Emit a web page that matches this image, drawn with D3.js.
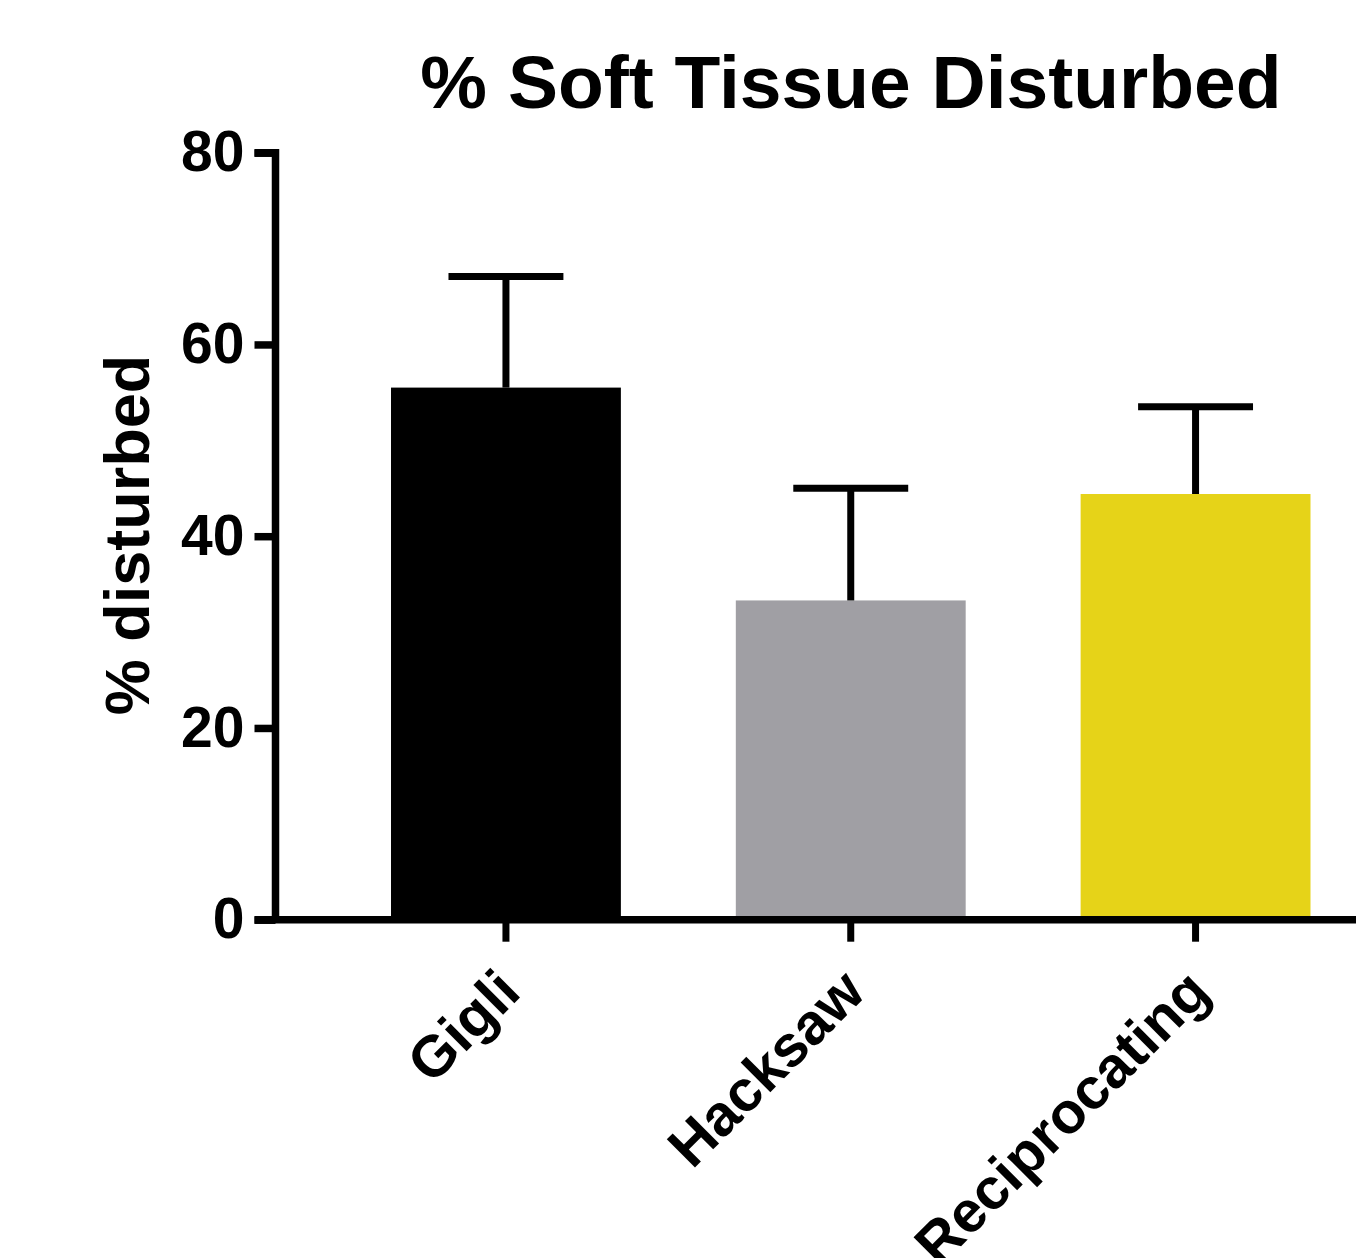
<!DOCTYPE html>
<html>
<head>
<meta charset="utf-8">
<script src="https://cdn.jsdelivr.net/npm/d3@7"></script>
<style>
  html, body { margin: 0; padding: 0; background: #fff; }
  svg { display: block; }
</style>
</head>
<body>
<div id="chart"></div>
<script>
(function () {
  'use strict';

  /* ── DATA ── */
  const CATEGORIES = ['Gigli', 'Hacksaw', 'Reciprocating'];
  const MEANS      = [55.5, 33.3, 44.4];
  const SD         = [11.6, 11.7, 9.1];
  const COLORS     = ['#000000', '#a09fa4', '#e6d318'];
  const Y_TICKS    = [0, 20, 40, 60, 80];

  /* ── LAYOUT ── */
  const W = 1356, H = 1258;
  const FONT   = "'Liberation Sans', Arial, Helvetica, sans-serif";
  const AXIS_W = 7.5;
  const TICK   = 21;
  const X0     = 275.5;            // y axis position
  const Y_BOT  = 919.7, Y_TOP = 152.7;

  const svg = d3.select('#chart').append('svg').attr('width', W).attr('height', H);

  const x = d3.scaleBand().domain(CATEGORIES)
    .range([X0, 1426]).paddingInner(1 / 3).paddingOuter(0.335);
  const y = d3.scaleLinear().domain([0, 80]).range([Y_BOT, Y_TOP]);

  const data = CATEGORIES.map((c, i) => ({ cat: c, mean: MEANS[i], sd: SD[i], color: COLORS[i] }));

  /* bars */
  svg.append('g').selectAll('rect').data(data).join('rect')
    .attr('x', d => x(d.cat)).attr('width', x.bandwidth())
    .attr('y', d => y(d.mean)).attr('height', d => y(0) - y(d.mean))
    .attr('fill', d => d.color);

  /* error bars (upper only) */
  const eb = svg.append('g').attr('stroke', '#000').attr('stroke-width', 7);
  eb.selectAll('line.stem').data(data).join('line').attr('class', 'stem')
    .attr('x1', d => x(d.cat) + x.bandwidth() / 2).attr('x2', d => x(d.cat) + x.bandwidth() / 2)
    .attr('y1', d => y(d.mean)).attr('y2', d => y(d.mean + d.sd));
  eb.selectAll('line.cap').data(data).join('line').attr('class', 'cap')
    .attr('x1', d => x(d.cat) + x.bandwidth() / 4).attr('x2', d => x(d.cat) + x.bandwidth() * 3 / 4)
    .attr('y1', d => y(d.mean + d.sd)).attr('y2', d => y(d.mean + d.sd));

  /* y axis */
  svg.append('g').attr('transform', `translate(${X0},0)`)
    .call(d3.axisLeft(y).tickValues(Y_TICKS).tickSize(TICK).tickSizeOuter(0).tickPadding(10))
    .call(ax => ax.select('.domain').attr('stroke', '#000').attr('stroke-width', AXIS_W)
      .attr('d', `M${-TICK},${Y_TOP}H0V${Y_BOT}`))
    .call(ax => ax.selectAll('.tick line').attr('stroke', '#000').attr('stroke-width', AXIS_W))
    .call(ax => ax.selectAll('.tick text').attr('fill', '#000')
      .style('font-family', FONT).style('font-size', '57px').style('font-weight', 'bold'));

  /* x axis */
  svg.append('g').attr('transform', `translate(0,${Y_BOT})`)
    .call(d3.axisBottom(x).tickSize(22).tickSizeOuter(0))
    .call(ax => ax.select('.domain').attr('stroke', '#000').attr('stroke-width', AXIS_W)
      .attr('d', `M${X0 - TICK},0H${W}`))
    .call(ax => ax.selectAll('.tick line').attr('stroke', '#000').attr('stroke-width', 7))
    .call(ax => ax.selectAll('.tick text')
      .attr('fill', '#000').attr('y', null).attr('dy', null)
      .attr('text-anchor', 'end')
      .attr('transform', 'translate(17,75) rotate(-45)')
      .style('font-family', FONT).style('font-size', '58px').style('font-weight', 'bold'));

  /* title */
  svg.append('text')
    .attr('x', 851).attr('y', 108).attr('text-anchor', 'middle')
    .style('font-family', FONT).style('font-size', '75px').style('font-weight', 'bold')
    .text('% Soft Tissue Disturbed');

  /* y label */
  svg.append('text')
    .attr('transform', 'translate(149,535) rotate(-90)').attr('text-anchor', 'middle')
    .style('font-family', FONT).style('font-size', '63px').style('font-weight', 'bold')
    .text('% disturbed');
})();
</script>
</body>
</html>
